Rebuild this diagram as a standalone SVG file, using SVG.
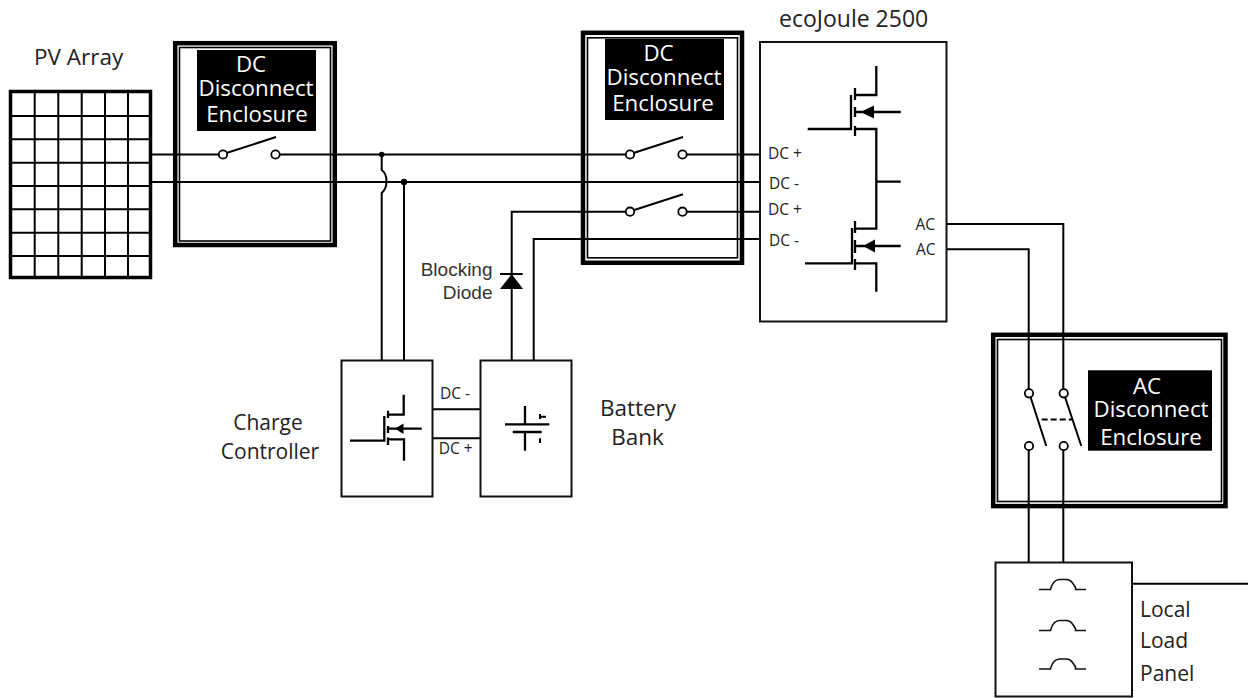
<svg xmlns="http://www.w3.org/2000/svg" xmlns:xlink="http://www.w3.org/1999/xlink" width="1248" height="698" viewBox="0 0 1248 698">
<style>
.w{fill:none;stroke:#000;stroke-width:2}
.f{fill:none;stroke:#000;stroke-width:2.300}
.box{fill:#fff;stroke:#111;stroke-width:2}
.oc{fill:#fff;stroke:#000;stroke-width:1.800}
.o{fill:none;stroke:#000;stroke-width:4.500}
.i{fill:none;stroke:#000;stroke-width:1.600}
.bk{fill:#000}
text{font-family:"Open Sans","Noto Sans",sans-serif;fill:#222}
.l{font-size:21px}
.big{font-size:22.500px}
.s{font-size:15.500px}
.e{font-size:22.300px;fill:#fff;text-anchor:middle}
.h{font-family:"Liberation Sans",Arial,sans-serif;font-size:19px;text-anchor:end;fill:#333}
.m{text-anchor:middle}
</style>
<defs>
<g id="sw"><circle class="oc" cx="0" cy="0" r="4.200"/><circle class="oc" cx="52.500" cy="0" r="4.200"/><path class="w" d="M3.500-1.500L53-17.500"/></g>
<path id="bk" d="M-23.500 0H-12V-.5C-10-7-7-10-3-10H4C8-10 10-7 13-2V0H23.500" fill="none" stroke="#111" stroke-width="1.600"/>
</defs>
<g id="pv-array">
<rect x="10.500" y="91.500" width="140" height="186" fill="#fff" stroke="#000" stroke-width="3.500"/>
<path class="w" d="M34.700 91V278M58.300 91V278M81.700 91V278M105 91V278M128 91V278M10 116H151M10 139.300H151M10 162.700H151M10 186H151M10 209.300H151M10 232.700H151M10 256H151"/>
<text class="big" x="34" y="64.500">PV Array</text>
</g>
<g id="dc-enclosure-1">
<rect class="o" x="175.200" y="43.200" width="159.600" height="201.800"/>
<rect class="i" x="179.500" y="47.500" width="151" height="193.500"/>
<rect class="bk" x="197" y="50" width="119" height="81"/>
<text class="e" x="251" y="72">DC</text><text class="e" x="256" y="96">Disconnect</text><text class="e" x="257" y="121.500">Enclosure</text>
</g>
<g id="dc-enclosure-2">
<rect class="o" x="583" y="32.800" width="159" height="230"/>
<rect class="i" x="587.500" y="37.800" width="150" height="220"/>
<rect class="bk" x="605" y="39" width="119" height="81"/>
<text class="e" x="658.500" y="61">DC</text><text class="e" x="664" y="85">Disconnect</text><text class="e" x="663" y="111">Enclosure</text>
</g>
<g id="ac-enclosure">
<rect class="o" x="993.200" y="334.800" width="232.300" height="171.300"/>
<rect class="i" x="997.500" y="339.500" width="224" height="162"/>
<rect class="bk" x="1088" y="370.300" width="124" height="80.400"/>
<text class="e" x="1147" y="394">AC</text><text class="e" x="1151" y="416.500">Disconnect</text><text class="e" x="1151" y="445">Enclosure</text>
</g>
<g id="connectors">
<path class="w" d="M152 154.500H219M280 154.500H381.700M381.700 154.500H626M686.500 154.500H760M152 182H760M511.700 360V211.700H626M686.500 211.700H760M533.700 360V239H760M404 182V360"/>
<path class="w" d="M381.700 154.500V170C385 172 386.500 177 386.500 182C386.500 187 385 190 381.700 193V360"/>
<circle cx="381.700" cy="154.500" r="2.800"/><circle cx="404" cy="182" r="3.200"/>
<path class="w" d="M946 224H1063.300V389M946 249.300H1028.700V389M1028.700 450V562M1063.300 450V562M432 409.300H481M432 438.300H481M1132 583.700H1248"/>
</g>
<g id="switch-1"><use xlink:href="#sw" href="#sw" transform="translate(223 154.500)"/></g>
<g id="switch-2"><use xlink:href="#sw" href="#sw" transform="translate(630 154.500)"/></g>
<g id="switch-3"><use xlink:href="#sw" href="#sw" transform="translate(630 211.700)"/></g>
<g id="ac-switch">
<circle class="oc" cx="1029" cy="393.300" r="4.200"/><circle class="oc" cx="1063.700" cy="393.300" r="4.200"/><circle class="oc" cx="1029" cy="446" r="4.200"/><circle class="oc" cx="1063.700" cy="446" r="4.200"/>
<path class="w" d="M1030.500 397L1046.300 446M1065 397L1081.300 446"/>
<path d="M1041.700 419.500H1072.700" stroke="#000" stroke-width="1.800" stroke-dasharray="6 3" fill="none"/>
</g>
<g id="blocking-diode">
<path d="M500 274H522.700" class="w"/><path d="M511.700 274L500 289H523Z" fill="#000"/>
<text class="h" x="492.500" y="275.500">Blocking</text><text class="h" x="492.500" y="298.500">Diode</text>
</g>
<g id="ecojoule">
<rect class="box" x="760" y="42" width="186.500" height="279.500" fill-opacity="0"/>
<text class="l" x="779" y="26.500" style="font-size:23px">ecoJoule 2500</text>
<text class="s" x="768" y="158.500">DC +</text><text class="s" x="769" y="188.500">DC -</text><text class="s" x="768" y="215">DC +</text><text class="s" x="769" y="246">DC -</text>
<text class="s" x="915.500" y="230">AC</text><text class="s" x="916" y="255">AC</text>
<path class="f" d="M876.300 66V95H855M855 88V100M855 107V117M855 126V136M851 95V129H807.700M855 129H876.300V228.700H855M876.300 181.700H900.700M900.700 112H855M855 221V233M855 240V253M855 259V270M852 228V263.300H805M855 263.300H876.300V291.700M900.700 246H855"/>
<path d="M860.500 112L874 105.500V118.500ZM863 246L875 239.500V252.500Z" fill="#000"/>
</g>
<g id="charge-controller">
<rect class="box" x="341.500" y="360.500" width="91" height="136" fill="#fff"/>
<path class="f" d="M403.700 394.700V414.700H388M388 410.700V418M388 426V433M388 437.500V445M384.300 416V440.700H350M388 439.300H404V460.700M421.700 428.700H388"/>
<path d="M395 428.700L403.500 423.500V434Z" fill="#000"/>
<text class="l m" x="268" y="430">Charge</text><text class="l m" x="270" y="459">Controller</text>
<text class="s" x="440" y="399">DC -</text><text class="s" x="438.700" y="454">DC +</text>
</g>
<g id="battery-bank">
<rect class="box" x="480.500" y="360.500" width="91" height="136" fill="#fff"/>
<path class="f" d="M505 424.300H549.300M525 406V424.300M512.700 432H541.700M525 432V450.700"/>
<path d="M540 414V419M540 416.700H546M540 438.300V443" fill="none" stroke="#000" stroke-width="2"/>
<text class="big m" x="638" y="415.700">Battery</text><text class="big m" x="637.500" y="445">Bank</text>
</g>
<g id="local-load-panel">
<rect class="box" x="995.500" y="562.500" width="136.500" height="134" fill="#fff"/>
<use xlink:href="#bk" href="#bk" transform="translate(1062.500 589.500)"/>
<use xlink:href="#bk" href="#bk" transform="translate(1062.500 630.500)"/>
<use xlink:href="#bk" href="#bk" transform="translate(1062.500 669)"/>
<text class="l" x="1140" y="617">Local</text><text class="l" x="1140" y="648">Load</text><text class="l" x="1140" y="681">Panel</text>
</g>
</svg>
